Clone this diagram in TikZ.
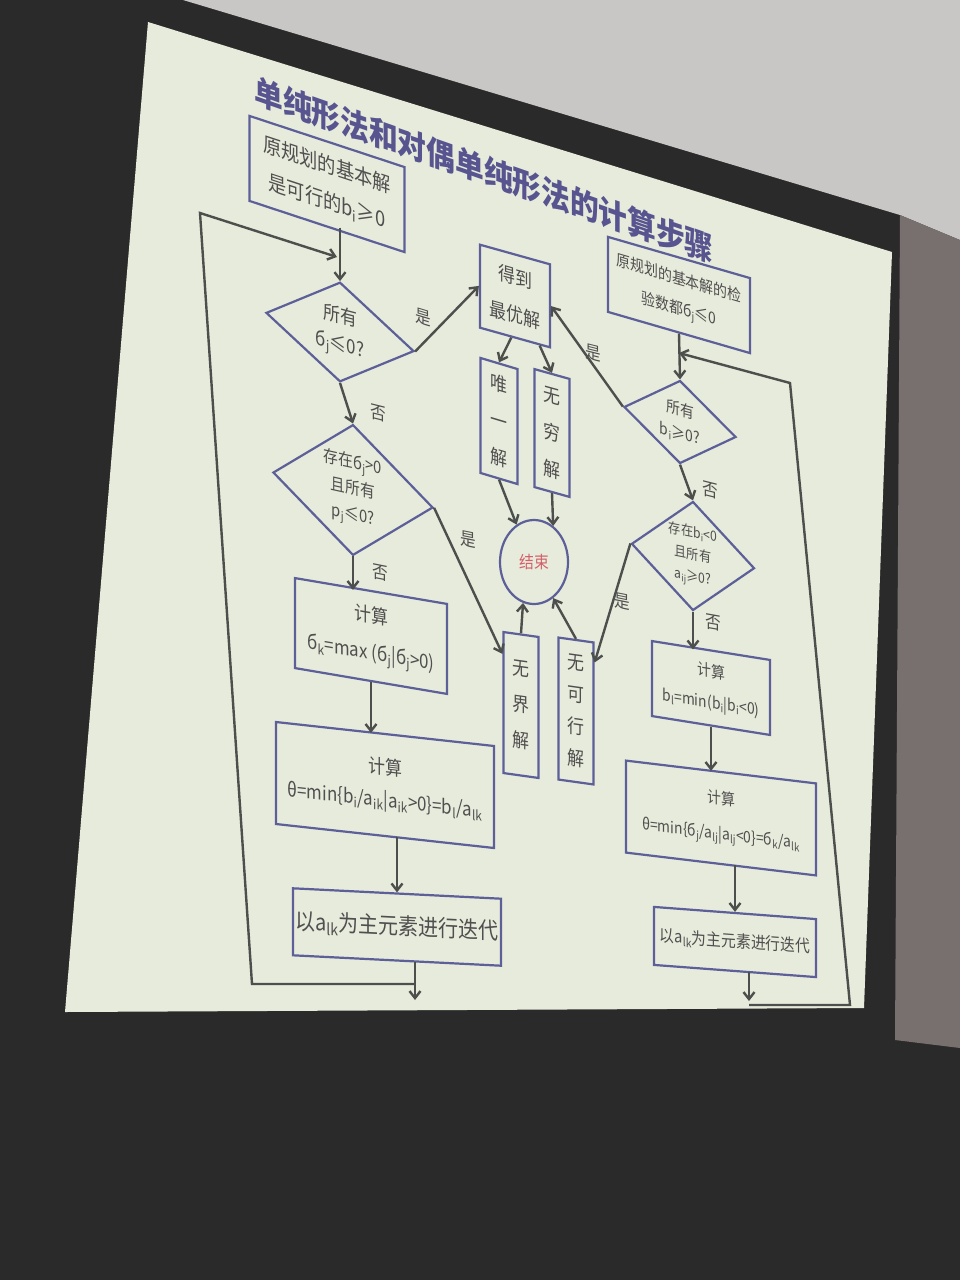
\documentclass[tikz,border=0pt]{standalone}
\usepackage{fontspec}
\setmainfont{Noto Sans CJK SC}[FakeStretch=0.87]
\usetikzlibrary{shapes.geometric}
\usetikzlibrary{arrows.meta}
\newcommand{\sbs}[1]{\textsubscript{#1}}
\definecolor{slidec}{HTML}{E7EBDB}
\definecolor{boxc}{HTML}{5C5F98}
\definecolor{linec}{HTML}{4C4F4C}
\definecolor{txtc}{HTML}{4F4F4F}
\definecolor{titlec}{HTML}{575490}
\definecolor{redc}{HTML}{D35F6A}
\definecolor{wallc}{HTML}{C9C7C5}
\definecolor{sidec}{HTML}{77706E}
\definecolor{darkc}{HTML}{2B2A2A}

\begin{document}
\begin{tikzpicture}[x=1pt, y=-1pt,
    fs/.style 2 args={font=\fontsize{#1}{#2}\selectfont},
    box/.style={draw=boxc, line width=2.2pt, text=txtc, align=center, inner sep=0pt},
    dia/.style={box, diamond},
    line/.style={draw=linec, line width=2.4pt},
    flow/.style={line, -{Straight Barb[length=7pt,width=11pt]}},
    lbl/.style={text=txtc, fs={18}{18}, inner sep=0pt}]

    % Photo surroundings
    \useasboundingbox (0,0) rectangle (960,1280);
    \fill[darkc] (0,0) rectangle (960,1280);
    \fill[wallc] (183,0) -- (960,0) -- (960,240) -- (900,215) -- cycle;
    \fill[sidec] (900,215) -- (960,240) -- (960,1048) -- (895,1040) -- cycle;
    \fill[slidec] (148,22) -- (892,252) -- (864,1008) -- (65,1012) -- cycle;

    % Title
    \node[text=titlec, fs={33}{33}, yslant=-0.35] (title) at (484,170) {\bfseries 单纯形法和对偶单纯形法的计算步骤};

    % Simplex method (left)
    \node[box, fs={21}{36}, minimum width=155, minimum height=85, yslant=-0.33] (prim) at (327,184) {原规划的基本解\\是可行的b\sbs{i}≥0};
    \node[dia, fs={19.5}{28}, minimum width=148, minimum height=95, yslant=-0.26] (allneg) at (340,332) {所有\\б\sbs{j}≤0?};
    \node[dia, fs={17}{26}, minimum width=160, minimum height=130, yslant=-0.22] (posp) at (353,490) {存在б\sbs{j}>0\\且所有\\p\sbs{j}≤0?};
    \node[box, fs={19.5}{37}, minimum width=152, minimum height=90, yslant=-0.17] (maxsig) at (371,636) {计算\\б\sbs{k}=max (б\sbs{j}|б\sbs{j}>0)};
    \node[box, fs={19.5}{33}, minimum width=218, minimum height=102, yslant=-0.11] (theta1) at (385,785) {计算\\θ=min\{b\sbs{i}/a\sbs{ik}|a\sbs{ik}>0\}=b\sbs{l}/a\sbs{lk}};
    \node[box, fs={23}{23}, minimum width=208, minimum height=67, yslant=-0.05] (piv1) at (397,927) {以a\sbs{lk}为主元素进行迭代};

    % Results (middle)
    \node[box, fs={19.5}{38}, minimum width=70, minimum height=83, yslant=-0.28] (optm) at (515,296) {得到\\最优解};
    \node[box, fs={19.5}{37}, minimum width=37, minimum height=115, yslant=-0.3] (uniq) at (499,421) {唯\\一\\解};
    \node[box, fs={19.5}{37}, minimum width=35, minimum height=118, yslant=-0.28] (infs) at (552,433) {无\\穷\\解};
    \node[draw=boxc, line width=2.2pt, ellipse, minimum width=68, minimum height=84, text=redc, fs={17}{17}] (stop) at (534,562) {结束};
    \node[box, fs={19.5}{36}, minimum width=35, minimum height=141, yslant=-0.14] (unbd) at (521,705) {无\\界\\解};
    \node[box, fs={19.5}{32}, minimum width=35, minimum height=142, yslant=-0.14] (nofs) at (576,711) {无\\可\\行\\解};

    % Dual simplex method (right)
    \node[box, fs={16}{30}, minimum width=142, minimum height=75, yslant=-0.29] (dual) at (679,295) {原规划的基本解的检\\验数都б\sbs{j}≤0};
    \node[dia, fs={16}{24}, minimum width=112, minimum height=83, yslant=-0.27] (allpos) at (680,422) {所有\\b\sbs{i}≥0?};
    \node[dia, fs={14}{22}, minimum width=123, minimum height=92, yslant=-0.2] (negb) at (693,556) {存在b\sbs{i}<0\\且所有\\a\sbs{ij}≥0?};
    \node[box, fs={16}{31}, minimum width=118, minimum height=75, yslant=-0.16] (minb) at (711,688) {计算\\b\sbs{l}=min(b\sbs{i}|b\sbs{i}<0)};
    \node[box, fs={16}{35}, minimum width=190, minimum height=92, yslant=-0.12] (theta2) at (721,818) {计算\\θ=min\{б\sbs{j}/a\sbs{lj}|a\sbs{lj}<0\}=б\sbs{k}/a\sbs{lk}};
    \node[box, fs={17}{17}, minimum width=162, minimum height=58, yslant=-0.075] (piv2) at (735,942) {以a\sbs{lk}为主元素进行迭代};

    % Left flow
    \draw[flow] (prim.south -| allneg.north) -- (allneg.north);
    \draw[flow] (allneg.east) -- (optm.west);
    \draw[flow] (allneg.south) -- (posp.north);
    \draw[flow] (posp.east) -- (unbd.111);
    \draw[flow] (posp.south) -- (posp.south |- maxsig.north);
    \draw[flow] (maxsig.south) -- (maxsig.south |- theta1.north);
    \draw[flow] (piv1.north |- theta1.south) -- (piv1.north);
    \coordinate (lout) at (415,1000);
    \coordinate (lcorner) at (252,984);
    \coordinate (ltop) at (200,213);
    \coordinate (lin) at (337,257);
    \draw[flow] (piv1.south -| lout) -- (lout);
    \draw[flow] (lout |- lcorner) -- (lcorner) -- (ltop) -- (lin); % back to top

    % Middle flow
    \draw[flow] (optm.265) -- (uniq.north);
    \draw[flow] (optm.300) -- (infs.north);
    \draw[flow] (uniq.south) -- (stop.115);
    \draw[flow] (infs.south) -- (stop.62);
    \draw[flow] (unbd.north) -- (stop.255);
    \draw[flow] (nofs.north) -- (stop.298);

    % Right flow
    \draw[flow] (dual.south) -- (allpos.north);
    \draw[flow] (allpos.west) -- (optm.east);
    \draw[flow] (allpos.south) -- (negb.north);
    \draw[flow] (negb.west) -- (nofs.70);
    \draw[flow] (negb.south) -- (negb.south |- minb.north);
    \draw[flow] (minb.south) -- (minb.south |- theta2.north);
    \draw[flow] (piv2.north |- theta2.south) -- (piv2.north);
    \coordinate (rout) at (749,1001);
    \coordinate (rcorner) at (850,1005);
    \coordinate (rtop) at (790,383);
    \coordinate (rin) at (679,353);
    \draw[flow] (piv2.south -| rout) -- (rout);
    \draw[flow] (rout |- rcorner) -- (rcorner) -- (rtop) -- (rin); % back to top

    % Yes / no labels
    \foreach \nm/\tx/\px/\py/\sl in {ya/是/423/317/-0.3, na/否/378/413/-0.25, yb/是/468/540/-0.2, nb/否/380/573/-0.2,
                                     yc/是/593/353/-0.25, nc/否/710/490/-0.25, yd/是/622/602/-0.2, nd/否/713/623/-0.18}
        \node[lbl, yslant=\sl] (\nm) at (\px,\py) {\tx};
\end{tikzpicture}
\end{document}
